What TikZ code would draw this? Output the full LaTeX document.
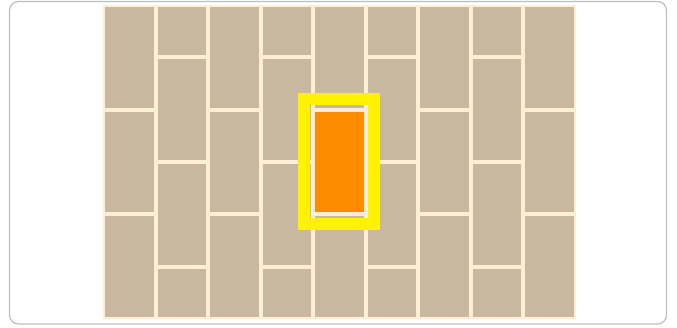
\documentclass[tikz,border=0pt]{standalone}
\definecolor{tan}{RGB}{200,184,160}
\definecolor{mortar}{RGB}{255,238,212}
\definecolor{hl}{RGB}{255,140,0}
\definecolor{frameg}{RGB}{190,190,190}
\tikzset{
  brick/.style={fill=tan, draw=none},
  hotbrick/.style={fill=hl, draw=none},
  hiframe/.style={draw=yellow, line width=12pt},
  outerframe/.style={draw=frameg, line width=1.2pt, rounded corners=9pt, fill=white}
}
\begin{document}
\begin{tikzpicture}[x=1pt,y=-1pt]
\useasboundingbox (0,0) rectangle (677,328);
\draw[outerframe] (9.5,1.5) rectangle (666.5,324);
\fill[mortar] (103,5) rectangle (576,319);
\pgfmathsetmacro{\w}{(576-103)/9}
\pgfmathsetmacro{\h}{(319-5)/3}
\foreach \i in {0,...,8}{
  \pgfmathsetmacro{\xa}{103+\i*\w+2}
  \pgfmathsetmacro{\xb}{103+(\i+1)*\w-2}
  \ifodd\i
    \foreach \r in {0,...,3}{
      \pgfmathsetmacro{\ya}{max(5,5+(\r-0.5)*\h)+2}
      \pgfmathsetmacro{\yb}{min(319,5+(\r+0.5)*\h)-2}
      \fill[brick] (\xa,\ya) rectangle (\xb,\yb);
    }
  \else
    \foreach \r in {0,...,2}{
      \pgfmathsetmacro{\ya}{5+\r*\h+2}
      \pgfmathsetmacro{\yb}{5+(\r+1)*\h-2}
      \fill[brick] (\xa,\ya) rectangle (\xb,\yb);
    }
  \fi
}
\pgfmathsetmacro{\xa}{103+4*\w+2}
\pgfmathsetmacro{\xb}{103+5*\w-2}
\pgfmathsetmacro{\ya}{5+\h+2}
\pgfmathsetmacro{\yb}{5+2*\h-2}
\fill[hotbrick] (\xa,\ya) rectangle (\xb,\yb);
\draw[hiframe] (304,99) rectangle (374,224);
\end{tikzpicture}
\end{document}
